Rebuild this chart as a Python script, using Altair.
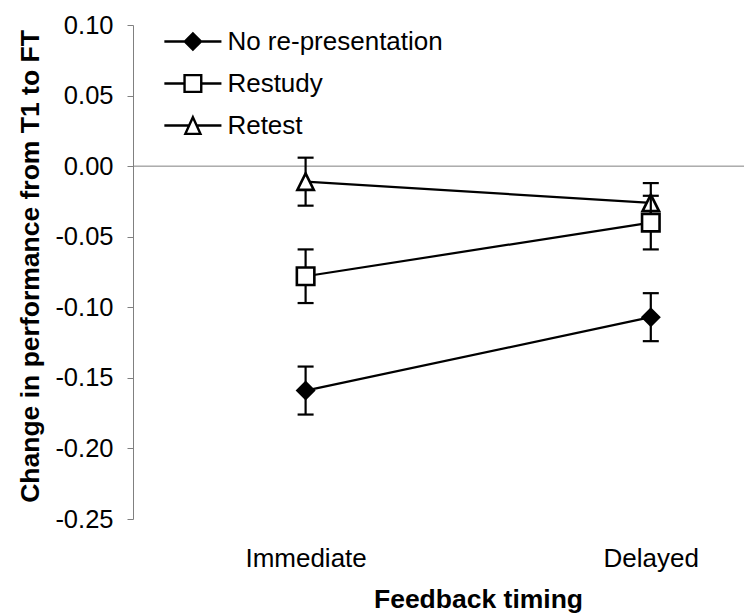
import altair as alt
import pandas as pd

# Categories and series
timing = ["Immediate", "Delayed"]
timing_pos = [1, 2]
series = ["No re-presentation", "Restudy", "Retest"]

# Mean change and error (one value per timing condition)
no_rep_mean = [-0.159, -0.107]
no_rep_err = [0.017, 0.017]
restudy_mean = [-0.078, -0.040]
restudy_err = [0.019, 0.019]
retest_mean = [-0.011, -0.026]
retest_err = [0.017, 0.014]

y_ticks = [0.10, 0.05, 0.00, -0.05, -0.10, -0.15, -0.20, -0.25]

means = {"No re-presentation": no_rep_mean, "Restudy": restudy_mean, "Retest": retest_mean}
errs = {"No re-presentation": no_rep_err, "Restudy": restudy_err, "Retest": retest_err}

rows = []
for s in series:
    for t, p, m, e in zip(timing, timing_pos, means[s], errs[s]):
        rows.append({"series": s, "timing": t, "pos": p, "mean": m, "lo": m - e, "hi": m + e})
df = pd.DataFrame(rows)

FONT = "Liberation Sans"
AXIS_GRAY = "#808080"

label_expr = " : ".join(
    f"datum.value == {p} ? '{t}'" for p, t in zip(timing_pos, timing)
) + " : ''"

x_enc = alt.X(
    "pos:Q",
    scale=alt.Scale(domain=[0.5, 2.27], nice=False, zero=False),
    axis=alt.Axis(
        values=timing_pos, labelExpr=label_expr, domain=False, ticks=False, grid=False,
        labelFont=FONT, labelFontSize=26, labelColor="black", labelBaseline="alphabetic",
        labelPadding=47, labelFlush=False,
        title="Feedback timing", titleFont=FONT, titleFontSize=26.5, titleFontWeight="bold",
        titleColor="black", titleX=345, titleY=88, titleBaseline="alphabetic", titleAlign="center",
    ),
)
y_axis = alt.Axis(
    values=y_ticks,
    labelExpr="(datum.value < -0.0001 ? '-' : '') + format(abs(datum.value), '.2f')",
    grid=False, domainColor=AXIS_GRAY, domainWidth=1, tickColor=AXIS_GRAY, tickSize=6, tickWidth=1,
    labelFont=FONT, labelFontSize=25.5, labelColor="black", labelPadding=14,
    title="Change in performance from T1 to FT", titleFont=FONT, titleFontSize=26.5,
    titleFontWeight="bold", titleColor="black", titleAngle=270, titleX=-95, titleY=241,
    titleBaseline="alphabetic", titleAlign="center",
)
y_scale = alt.Scale(domain=[-0.25, 0.10], nice=False, zero=False)

base = alt.Chart(df)

zero_line = alt.Chart(pd.DataFrame({"z": [0.0]})).mark_rule(
    color=AXIS_GRAY, strokeWidth=1
).encode(y=alt.Y("z:Q", scale=y_scale, axis=y_axis))

lines = base.mark_line(color="black", strokeWidth=2.2).encode(
    x=x_enc, y=alt.Y("mean:Q", scale=y_scale, axis=y_axis), detail="series:N"
)

marker_style = {
    "No re-presentation": dict(shape="M-1,0L0,-1L1,0L0,1Z", size=400, fill="black", strokeWidth=0),
    "Restudy": dict(shape="square", size=306, fill="white", strokeWidth=2.6),
    "Retest": dict(shape="M0,-1L1,1L-1,1Z", size=270, fill="white", strokeWidth=2.6),
}

series_layers = []
for s in ["Retest", "Restudy", "No re-presentation"]:
    sub = base.transform_filter(alt.datum.series == s)
    bar = sub.mark_rule(color="black", strokeWidth=2.2).encode(
        x="pos:Q", y="lo:Q", y2="hi:Q"
    )
    cap_lo = sub.mark_rule(color="black", strokeWidth=2.2, xOffset=-8, x2Offset=8).encode(
        x="pos:Q", x2="pos:Q", y="lo:Q"
    )
    cap_hi = sub.mark_rule(color="black", strokeWidth=2.2, xOffset=-8, x2Offset=8).encode(
        x="pos:Q", x2="pos:Q", y="hi:Q"
    )
    st = marker_style[s]
    pts = sub.mark_point(
        filled=True, fill=st["fill"], stroke="black", strokeWidth=st["strokeWidth"],
        opacity=1, size=st["size"], shape=st["shape"],
    ).encode(x="pos:Q", y="mean:Q")
    series_layers += [bar, cap_lo, cap_hi, pts]

# Legend: line-with-marker symbols drawn from the series scale
legend_paths = [
    "M-1.06,0L-0.3,0M0.3,0L1.06,0M-0.3,0L0,-0.3L0.3,0L0,0.3Z",
    "M-1.06,0L-0.31,0M0.31,0L1.06,0M-0.31,-0.31L0.31,-0.31L0.31,0.31L-0.31,0.31Z",
    "M-1.06,0L-0.14,0M0.14,0L1.06,0M0,-0.31L0.28,0.31L-0.28,0.31Z",
]
legend_cfg = dict(
    title=None, orient="none", legendX=31.4, legendY=-12, labelFont=FONT, labelFontSize=26,
    labelColor="black", labelOffset=6, symbolSize=2900, symbolStrokeWidth=2.4,
    symbolStrokeColor="black", labelLimit=0, rowPadding=0,
)
legend_layer = base.transform_filter("false").mark_point(
    filled=True, strokeWidth=2.4, opacity=1
).encode(
    x="pos:Q",
    y="mean:Q",
    shape=alt.Shape("series:N", scale=alt.Scale(domain=series, range=legend_paths),
                    legend=alt.Legend(**legend_cfg)),
    fill=alt.Fill("series:N", scale=alt.Scale(domain=series, range=["black", "white", "white"]),
                  legend=alt.Legend(**legend_cfg)),
    stroke=alt.Stroke("series:N", scale=alt.Scale(domain=series, range=["black", "black", "black"]),
                      legend=alt.Legend(**legend_cfg)),
)

chart = alt.layer(zero_line, lines, *series_layers, legend_layer).properties(
    width=611, height=494,
    autosize=alt.AutoSizeParams(type="none"),
    padding={"left": 133, "top": 25, "right": 0, "bottom": 96},
    background="white",
).configure_view(stroke=None)

chart.save("out.html", embed_options={"renderer": "svg", "actions": False})
